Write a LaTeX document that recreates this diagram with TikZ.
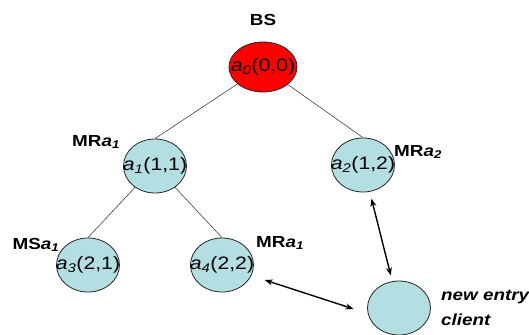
\documentclass[tikz,border=0pt]{standalone}
\usepackage{fontspec}
\setmainfont[FakeStretch=1.18]{Liberation Sans}
\usetikzlibrary{positioning}
\usetikzlibrary{shapes.geometric}
\usetikzlibrary{arrows.meta}

\definecolor{bsred}{RGB}{255,0,0}
\definecolor{mrblue}{RGB}{180,223,226}

\newcommand{\asub}[1]{\textit{a}\textsubscript{\textit{#1}}}
\newcommand{\anode}[2]{\makebox[0pt]{\asub{#1}(#2)}}

\begin{document}
\begin{tikzpicture}[x=1pt, y=1pt, on grid,
  stn/.style={ellipse, draw=black!85, line width=0.8pt, fill=mrblue,
    minimum width=63pt, minimum height=54pt, inner sep=0pt,
    font=\fontsize{18}{20}\selectfont},
  bs/.style={stn, fill=bsred, minimum width=68pt, minimum height=50pt},
  tag/.style={font=\fontsize{16}{18}\selectfont\bfseries, inner sep=0pt},
  link/.style={draw=black!75, line width=0.6pt},
  conn/.style={{Stealth[length=8pt,width=6pt]}-{Stealth[length=8pt,width=6pt]}, line width=1.4pt}]
\useasboundingbox (-263,67) rectangle (266,-267);

% Define nodes
% Tree
\node[bs] (a0) {\anode{0}{0,0}};
\node[stn, below left=99pt and 108pt of a0] (a1) {\anode{1}{1,1}};
\node[stn, below right=98pt and 100pt of a0] (a2) {\anode{2}{1,2}};
\node[stn, below left=99pt and 67pt of a1] (a3) {\anode{3}{2,1}};
\node[stn, below right=99pt and 67pt of a1] (a4) {\anode{4}{2,2}};
\node[stn, below right=143pt and 36pt of a2] (cl) {};

% Labels
\node[tag, above=47pt of a0] (bsl) {BS};
\node[tag, above left=24pt and 59pt of a1] (mr1) {MR\asub{1}};
\node[tag, above right=13pt and 55pt of a2] (mr2) {MR\asub{2}};
\node[tag, above left=20pt and 52pt of a3] (ms1) {MS\asub{1}};
\node[tag, above right=22pt and 58pt of a4] (mr4) {MR\asub{1}};
\node[font=\fontsize{16}{25}\selectfont\bfseries\itshape, align=left,
  inner sep=0pt, anchor=west, xshift=10pt] (new) at (cl.east) {new entry\\client};

% Edges
\draw[link] (a0) -- (a1.north);
\draw[link] (a0) -- (a2.north);
\draw[link] (a1) -- (a3.north);
\draw[link] (a1) -- (a4.north);
\draw[conn, shorten <=7pt, shorten >=6pt] (a2) -- (cl);
\draw[conn, shorten <=14pt, shorten >=15pt] (a4.-20) -- (cl.190);
\end{tikzpicture}
\end{document}
